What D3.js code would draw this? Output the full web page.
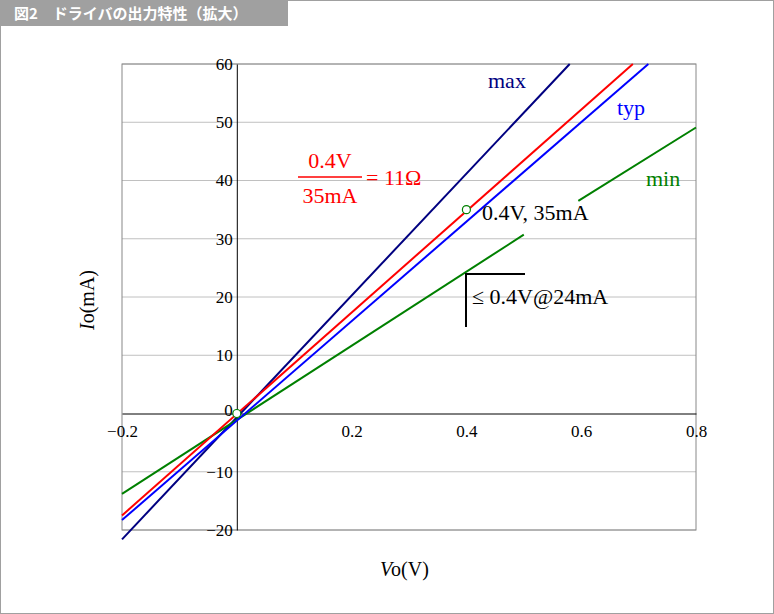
<!DOCTYPE html>
<html><head><meta charset="utf-8">
<script src="https://cdn.jsdelivr.net/npm/d3@7"></script>
<style>body{margin:0;background:#fff}</style>
</head><body>
<script>
// data
const xTicks = [-0.2, 0, 0.2, 0.4, 0.6, 0.8];
const yTicks = [-20, -10, 0, 10, 20, 30, 40, 50, 60];
const maxLine = [[-0.2, -21.6], [0.58, 60]];
const typLine = [[-0.2, -18.3], [0.717, 60]];
const fitLine = [[-0.2, -17.5], [0.69, 60]];
const minSeg1 = [[-0.2, -13.8], [0.5, 30.7]];
const minSeg2 = [[0.595, 36.5], [0.8, 49.1]];
const markers = [[0, 0], [0.4, 35]];

const W = 774, H = 614;
const svg = d3.select('body').append('svg').attr('width', W).attr('height', H);
svg.append('rect').attr('x', 0.5).attr('y', 0.5).attr('width', W - 1).attr('height', H - 1)
    .attr('fill', '#fff').attr('stroke', '#a0a0a0');
svg.append('rect').attr('x', 0).attr('y', 0).attr('width', 288).attr('height', 26).attr('fill', '#a0a0a0');
svg.append('text').attr('x', 14).attr('y', 19).attr('fill', '#fff').attr('font-size', '15px')
    .attr('font-weight', 'bold').attr('font-family', 'Noto Sans CJK JP, sans-serif')
    .text('図2　ドライバの出力特性（拡大）');

const x = d3.scaleLinear().domain([-0.2, 0.8]).range([122, 696]);
const y = d3.scaleLinear().domain([-20, 60]).range([530, 64]);
const serif = 'Liberation Serif, Times New Roman, serif';

// grid
svg.selectAll('.grid').data(yTicks.filter(d => d !== 0)).join('line')
    .attr('x1', 122).attr('x2', 696).attr('y1', d => y(d)).attr('y2', d => y(d))
    .attr('stroke', '#c0c0c0');
svg.append('rect').attr('x', 122).attr('y', 64).attr('width', 574).attr('height', 466)
    .attr('fill', 'none').attr('stroke', '#888');

// axes through zero
const xAxis = svg.append('g').attr('transform', `translate(0,${y(0)})`)
    .call(d3.axisBottom(x).tickValues(xTicks).tickSize(0).tickFormat(d => d === 0 ? '0' : d3.format('.1f')(d)));
xAxis.select('.domain').attr('stroke', '#000');
xAxis.selectAll('text').attr('font-family', serif).attr('font-size', '17px').attr('dy', '1.2em')
    .attr('dx', d => d === 0 ? 0 : 0);
const yAxis = svg.append('g').attr('transform', `translate(${x(0)},0)`)
    .call(d3.axisLeft(y).tickValues(yTicks).tickSize(0).tickPadding(4));
yAxis.select('.domain').attr('stroke', '#000');
yAxis.selectAll('text').attr('font-family', serif).attr('font-size', '17px').attr('fill', '#000');
yAxis.selectAll('.tick').filter(d => d === 0).select('text').attr('dy', '0.1em');
xAxis.selectAll('.tick').filter(d => d === 0).select('text').remove();

const line = d3.line().x(d => x(d[0])).y(d => y(d[1]));
[[maxLine, '#000080'], [minSeg1, '#008000'], [minSeg2, '#008000'], [typLine, '#0000ff'], [fitLine, '#ff0000']]
    .forEach(([d, c]) => svg.append('path').attr('d', line(d)).attr('stroke', c).attr('stroke-width', 2).attr('fill', 'none'));

svg.selectAll('.mk').data(markers).join('circle')
    .attr('cx', d => x(d[0])).attr('cy', d => y(d[1])).attr('r', 4)
    .attr('fill', '#fff').attr('stroke', '#008000').attr('stroke-width', 1.2);

function label(tx, ty, s, c, size, anchor) {
    svg.append('text').attr('x', tx).attr('y', ty).attr('fill', c).attr('font-size', size || '22px')
        .attr('font-family', serif).attr('text-anchor', anchor || 'start').text(s);
}
label(488, 88, 'max', '#000080');
label(617, 115, 'typ', '#0000ff');
label(646, 186, 'min', '#008000');
label(482, 220, '0.4V, 35mA', '#000');
label(472, 304, '≤ 0.4V@24mA', '#000');
svg.append('path').attr('d', 'M466,327V274H525').attr('stroke', '#000').attr('stroke-width', 2).attr('fill', 'none');
label(330, 168, '0.4V', '#f00', '22px', 'middle');
label(330, 203, '35mA', '#f00', '22px', 'middle');
svg.append('line').attr('x1', 298).attr('x2', 362).attr('y1', 177).attr('y2', 177).attr('stroke', '#f00').attr('stroke-width', 1.5);
label(366, 185, '= 11Ω', '#f00');

label(410, 576, 'o(V)', '#000', '20px', 'middle');
svg.append('text').attr('x', 380).attr('y', 576).attr('font-family', serif).attr('font-size', '20px')
    .attr('font-style', 'italic').text('V');
svg.append('text').attr('transform', 'translate(94,330) rotate(-90)').attr('font-family', serif)
    .attr('font-size', '20px').html('<tspan font-style="italic">I</tspan>o(mA)');
</script>
</body></html>
